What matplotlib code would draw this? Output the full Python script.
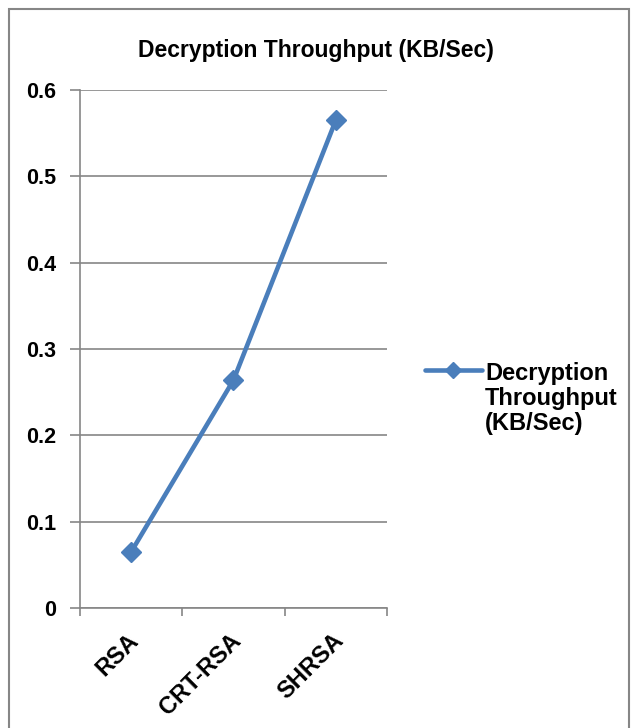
import matplotlib.pyplot as plt
from matplotlib.patches import Rectangle
from matplotlib.transforms import ScaledTranslation

categories = ['RSA', 'CRT-RSA', 'SHRSA']
throughput = [0.065, 0.264, 0.565]
yticks = [0, 0.1, 0.2, 0.3, 0.4, 0.5, 0.6]
ytick_labels = ['0', '0.1', '0.2', '0.3', '0.4', '0.5', '0.6']

plt.rcParams['font.family'] = ['Liberation Sans', 'DejaVu Sans']
plt.rcParams['font.weight'] = 'bold'

fig = plt.figure(figsize=(6.32, 7.28), dpi=100)
ax = fig.add_axes([80 / 632, 1 - 608 / 728, 307 / 632, 518 / 728])

blue = '#4A7EBB'
grey = '#868686'
x = list(range(len(categories)))
ax.plot(x, throughput, color=blue, lw=3.3, marker='D', ms=10.5,
        label='Decryption\nThroughput\n(KB/Sec)', solid_capstyle='round')

ax.set_xlim(-0.5, len(categories) - 0.5)
ax.set_ylim(0, 0.6)
ax.set_yticks(yticks)
ax.set_yticklabels(ytick_labels, fontsize=15.5, fontweight='bold')
ax.yaxis.grid(True, color=grey, lw=1.2)
ax.set_axisbelow(True)

# category boundaries as major ticks, labels on minor ticks
ax.set_xticks([i - 0.5 for i in range(len(categories) + 1)])
ax.set_xticklabels([])
ax.set_xticks(x, minor=True)
ax.set_xticklabels(categories, minor=True, rotation=45, ha='right',
                   rotation_mode='anchor', fontsize=17, fontweight='bold')
ax.tick_params(axis='x', which='minor', length=0, pad=15)
ax.tick_params(axis='x', which='major', length=6, color=grey, width=1.2)
ax.tick_params(axis='y', length=7, color=grey, width=1.2, pad=10)
shift = ScaledTranslation(-4 / 100, 0, fig.dpi_scale_trans)
for lab in ax.get_xticklabels(minor=True):
    lab.set_transform(lab.get_transform() + shift)

for s in ['top', 'right']:
    ax.spines[s].set_visible(False)
for s in ['left', 'bottom']:
    ax.spines[s].set_color(grey)
    ax.spines[s].set_linewidth(1.2)

fig.text(316 / 632, 1 - 50 / 728, 'Decryption Throughput (KB/Sec)', ha='center',
         va='center', fontsize=16.5, fontweight='bold')

leg = ax.legend(loc='upper left', bbox_to_anchor=(425 / 632, 1 - 362 / 728),
                bbox_transform=fig.transFigure, frameon=False, fontsize=17,
                handlelength=2.4, handletextpad=0.15, borderaxespad=0,
                borderpad=0)
for t in leg.get_texts():
    t.set_fontweight('bold')
    t.set_linespacing(1.1)
leg.legend_handles[0].set_markersize(8)
# handle sits on the first text line, as in the original
for col in leg._legend_handle_box.get_children():
    for hp in col.get_children():
        hp.align = 'top'

fig.add_artist(Rectangle((9 / 632, -0.05), 620 / 632, 1.05 - 9 / 728,
                         transform=fig.transFigure, fill=False,
                         edgecolor=grey, lw=1.5))

fig.savefig('out.png', dpi=100)
